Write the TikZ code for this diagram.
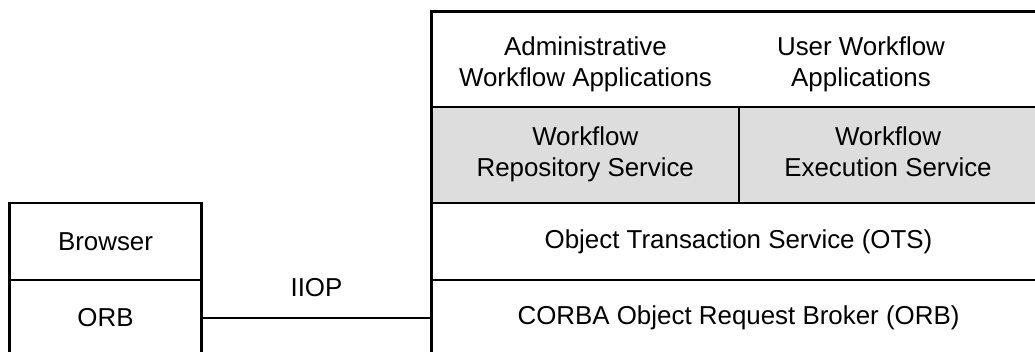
\documentclass[tikz,border=0pt]{standalone}
\usepackage{fontspec}
\setmainfont{Liberation Sans}
\definecolor{cellgray}{RGB}{221,221,221}
\begin{document}
\begin{tikzpicture}[x=1pt,y=-1pt,
  every node/.style={font=\fontsize{25.9}{30.5}\selectfont, align=center, inner sep=0pt, outer sep=0pt},
  cell/.style={draw=black, line width=2.6pt, anchor=north west, line join=miter},
  shaded/.style={cell, fill=cellgray},
  wire/.style={draw=black, line width=2.2pt}]
\useasboundingbox (0,0) rectangle (1035,351);
\clip (0,0) rectangle (1035,351);
% client side
\node[cell, minimum width=192pt, minimum height=77pt] (browser) at (9.5,203) {Browser};
\node[cell, minimum width=192pt, minimum height=76pt] (orb) at (9.5,280) {ORB};
% server side
\node[cell, minimum width=614pt, minimum height=95.5pt] (apps) at (431.5,11.5) {};
\node (adminapp) at (585.5,65) {\strut Administrative\\\strut Workflow Applications};
\node (userapp) at (861,65) {\strut User Workflow\\\strut Applications};
\node[shaded, minimum width=307.5pt, minimum height=96pt] (repo) at (431.5,107) {\strut Workflow\\\strut Repository Service};
\node[shaded, minimum width=298pt, minimum height=96pt] (exec) at (739,107) {\strut Workflow\\\strut Execution Service};
\node[cell, minimum width=614pt, minimum height=77pt] (ots) at (431.5,203) {Object Transaction Service (OTS)};
\node[cell, minimum width=614pt, minimum height=76pt] (corba) at (431.5,280) {CORBA Object Request Broker (ORB)};
% connector
\draw[wire] (orb.east) -- node[midway, yshift=30pt] (iiop) {IIOP} (corba.west);
\end{tikzpicture}
\end{document}
